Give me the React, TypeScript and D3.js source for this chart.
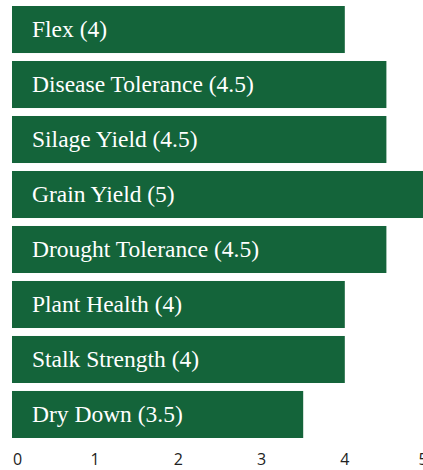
import React, { useEffect, useRef } from "react";
import * as d3 from "d3";

const traits = [
  "Flex",
  "Disease Tolerance",
  "Silage Yield",
  "Grain Yield",
  "Drought Tolerance",
  "Plant Health",
  "Stalk Strength",
  "Dry Down",
];
const scores = [4, 4.5, 4.5, 5, 4.5, 4, 4, 3.5];
const ticks = [0, 1, 2, 3, 4, 5];

const W = 423;
const H = 470;

export default function App() {
  const ref = useRef<SVGSVGElement>(null);

  useEffect(() => {
    const svg = d3.select(ref.current);
    svg.selectAll("*").remove();

    const x = d3.scaleLinear().domain([0, 5]).range([12, 428]);
    const y = d3
      .scaleBand()
      .domain(traits)
      .range([6, 438])
      .paddingInner(0.145)
      .paddingOuter(0);

    const data = traits.map((t, i) => ({ name: t, value: scores[i] }));

    const g = svg.append("g");
    g.selectAll("rect")
      .data(data)
      .join("rect")
      .attr("x", x(0))
      .attr("y", (d) => y(d.name)!)
      .attr("width", (d) => x(d.value) - x(0))
      .attr("height", y.bandwidth())
      .attr("fill", "#14643a");

    g.selectAll("text.label")
      .data(data)
      .join("text")
      .attr("class", "label")
      .attr("x", 32)
      .attr("y", (d) => y(d.name)! + y.bandwidth() / 2)
      .attr("dy", "0.3em")
      .style("font-family", "'Liberation Serif', 'Times New Roman', serif")
      .style("font-size", "23.5px")
      .attr("fill", "#ffffff")
      .text((d) => `${d.name} (${d.value})`);

    // x axis tick labels only (first one left-aligned, last one pulled into view)
    g.selectAll("text.tick")
      .data(ticks)
      .join("text")
      .attr("class", "tick")
      .attr("x", (d) => (d === 0 ? x(d) + 1 : Math.min(x(d), W)))
      .attr("y", 465)
      .attr("text-anchor", (d) => (d === 0 ? "start" : "middle"))
      .style("font-family", "'Open Sans', sans-serif")
      .style("font-size", "16px")
      .attr("fill", "#222")
      .text((d) => d);
  }, []);

  return (
    <svg
      ref={ref}
      width={W}
      height={H}
      style={{ position: "absolute", left: 0, top: 0, display: "block" }}
    />
  );
}
